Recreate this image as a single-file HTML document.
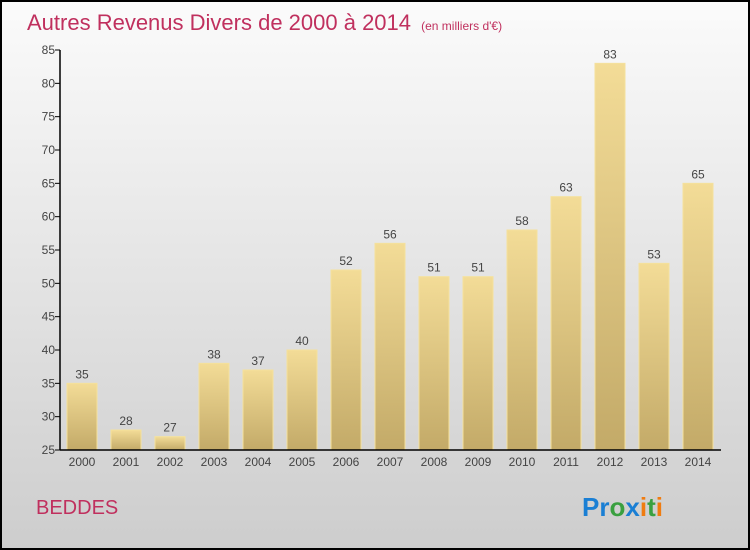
<!DOCTYPE html>
<html><head><meta charset="utf-8"><style>
body{margin:0;}
svg{display:block;font-family:"Liberation Sans",sans-serif;}
</style></head><body>
<svg id="c" width="750" height="550" xmlns="http://www.w3.org/2000/svg">
<defs>
<linearGradient id="bg" x1="0" y1="0" x2="0" y2="1"><stop offset="0" stop-color="#fbfbfb"/><stop offset="1" stop-color="#cdcdcd"/></linearGradient>
<linearGradient id="bar" x1="0" y1="0" x2="0" y2="1"><stop offset="0" stop-color="#f3dc97"/><stop offset="1" stop-color="#c3aa68"/></linearGradient>
</defs>
<rect x="1" y="1" width="748" height="548" fill="url(#bg)" stroke="#000" stroke-width="2"/>
<text x="27" y="30" font-size="22" fill="#c0305e">Autres Revenus Divers de 2000 à 2014 <tspan font-size="12" dx="4">(en milliers d'€)</tspan></text>
<g id="plot"></g>
<text x="36" y="514" font-size="20" fill="#c0305e">BEDDES</text>
<text x="582" y="516" font-size="26" font-weight="bold"><tspan fill="#1a7fd4">Pr</tspan><tspan fill="#3aa040">o</tspan><tspan fill="#1a7fd4">x</tspan><tspan fill="#f07c10">i</tspan><tspan fill="#3aa040">t</tspan><tspan fill="#f07c10">i</tspan></text>
</svg>
<script>
const years=["2000","2001","2002","2003","2004","2005","2006","2007","2008","2009","2010","2011","2012","2013","2014"];
const values=[35,28,27,38,37,40,52,56,51,51,58,63,83,53,65];
const ticks=[25,30,35,40,45,50,55,60,65,70,75,80,85];
const NS="http://www.w3.org/2000/svg";
const g=document.getElementById('plot');
const x0=60,bw=44,yMin=25,yMax=85,yTop=50,yBot=450;
const y=v=>yBot-(v-yMin)/(yMax-yMin)*(yBot-yTop);
const xc=i=>x0+bw/2+i*bw;
function mk(t,a){const e=document.createElementNS(NS,t);for(const k in a)e.setAttribute(k,a[k]);g.appendChild(e);return e;}
values.forEach((v,i)=>{
 const r=mk('rect',{x:xc(i)-15,y:y(v),width:30,height:yBot-y(v),fill:'url(#bar)',stroke:'#f5e19c','stroke-width':1});
 
 
 const t=mk('text',{x:xc(i),y:y(v)-5,'text-anchor':'middle','font-size':12,fill:'#444'});
 t.textContent=v;
 
 
 const xl=mk('text',{x:xc(i),y:466,'text-anchor':'middle','font-size':12,fill:'#444'});
 xl.textContent=years[i];
 
 
});
ticks.forEach(v=>{
 const l=mk('line',{x1:55,x2:60,y1:y(v),y2:y(v),stroke:'#000'});
 
 
 const t=mk('text',{x:55,y:y(v)+4,'text-anchor':'end','font-size':12,fill:'#444'});
 t.textContent=v;
 
 
});
const ya=mk('line',{x1:60,x2:60,y1:yTop,y2:yBot,stroke:'#000','stroke-width':1.5});


const xa=mk('line',{x1:60,x2:721,y1:yBot,y2:yBot,stroke:'#000','stroke-width':1.5});


</script>
</body></html>
